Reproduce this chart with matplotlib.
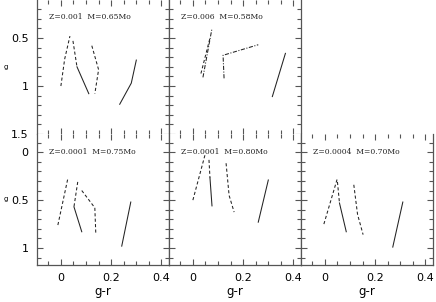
import matplotlib
matplotlib.use("Agg")
import matplotlib.pyplot as plt
from matplotlib.ticker import MultipleLocator

# ---------------- data (g-r, g) ----------------
panel_labels = ["Z=0.001  M=0.65Mo", "Z=0.006  M=0.58Mo",
                "Z=0.0001  M=0.75Mo", "Z=0.0001  M=0.80Mo", "Z=0.0004  M=0.70Mo"]

# panel 1 : Z=0.001 M=0.65
p1_a_x = [0.000, 0.015, 0.036]; p1_a_y = [1.00, 0.72, 0.48]
p1_b_x = [0.048, 0.064];        p1_b_y = [0.53, 0.80]
p1_c_x = [0.064, 0.111];        p1_c_y = [0.80, 1.08]
p1_d_x = [0.123, 0.150, 0.135]; p1_d_y = [0.58, 0.83, 1.08]
p1_e_x = [0.234, 0.280, 0.300]; p1_e_y = [1.19, 0.97, 0.73]

# panel 2 : Z=0.006 M=0.58
p2_a_x = [0.040, 0.076];        p2_a_y = [0.91, 0.40]
p2_b_x = [0.032, 0.068];        p2_b_y = [0.87, 0.50]
p2_c_x = [0.124, 0.120, 0.260]; p2_c_y = [0.92, 0.68, 0.57]
p2_d_x = [0.316, 0.368];        p2_d_y = [1.11, 0.66]

# panel 4 : Z=0.0001 M=0.75
p4_a_x = [-0.012, 0.028];       p4_a_y = [0.76, 0.27]
p4_b_x = [0.067, 0.052];        p4_b_y = [0.31, 0.57]
p4_c_x = [0.052, 0.083];        p4_c_y = [0.57, 0.83]
p4_d_x = [0.083, 0.135, 0.139]; p4_d_y = [0.40, 0.58, 0.86]
p4_e_x = [0.242, 0.278];        p4_e_y = [0.98, 0.52]

# panel 5 : Z=0.0001 M=0.80
p5_a_x = [0.000, 0.048];        p5_a_y = [0.50, 0.03]
p5_b_x = [0.064, 0.068];        p5_b_y = [0.08, 0.27]
p5_c_x = [0.068, 0.076];        p5_c_y = [0.27, 0.56]
p5_d_x = [0.132, 0.144, 0.164]; p5_d_y = [0.115, 0.45, 0.625]
p5_e_x = [0.260, 0.300];        p5_e_y = [0.73, 0.29]

# panel 6 : Z=0.0004 M=0.70
p6_a_x = [-0.004, 0.050];       p6_a_y = [0.75, 0.27]
p6_b_x = [0.050, 0.058];        p6_b_y = [0.31, 0.53]
p6_c_x = [0.058, 0.085];        p6_c_y = [0.53, 0.83]
p6_d_x = [0.115, 0.130, 0.152]; p6_d_y = [0.34, 0.65, 0.86]
p6_e_x = [0.270, 0.310];        p6_e_y = [0.99, 0.52]

x_ticks = [0, 0.2, 0.4]
x_tick_labels = ["0", "0.2", "0.4"]
upper_y_ticks = [0.5, 1.0, 1.5]
upper_y_labels = ["0.5", "1", "1.5"]
lower_y_ticks = [0.0, 0.5, 1.0]
lower_y_labels = ["0", "0.5", "1"]

# ---------------- styling ----------------
DASH = (0, (3.0, 2.2))
DASHDOT = (0, (4.0, 1.5, 1.0, 1.5))
SOLID = "-"
LINE_KW = dict(color="#222222", lw=0.75)
SPINE_COLOR = "#555555"

fig = plt.figure(figsize=(4.36, 3.02), dpi=100)
W = 436.0
H = 302.0
col_left = [37 / W, 169 / W, 301 / W]
col_w = 132 / W
up_b, up_h = 1 - 134 / H, 134 / H
lo_b, lo_h = 1 - 265 / H, 131 / H


def style_axes(ax, upper, first_col, last_row):
    ax.set_xlim(-0.095, 0.43)
    if upper:
        ax.set_ylim(1.5, 0.104)
        ax.set_yticks(upper_y_ticks)
        ax.set_yticklabels(upper_y_labels if first_col else [])
    else:
        ax.set_ylim(1.177, -0.19)
        ax.set_yticks(lower_y_ticks)
        ax.set_yticklabels(lower_y_labels if first_col else [])
    ax.set_xticks(x_ticks)
    ax.set_xticklabels(x_tick_labels if last_row else [])
    ax.xaxis.set_minor_locator(MultipleLocator(0.05))
    ax.yaxis.set_minor_locator(MultipleLocator(0.1))
    ax.tick_params(which="both", direction="in", top=True, right=True,
                   color=SPINE_COLOR, width=0.8, labelsize=8)
    ax.tick_params(which="major", length=4.5)
    ax.tick_params(which="minor", length=2.8)
    ax.tick_params(axis="y", pad=6)
    ax.tick_params(axis="x", pad=6)
    for s in ax.spines.values():
        s.set_color(SPINE_COLOR)
        s.set_linewidth(0.9)
    ax.spines["top"].set_visible(False)
    if upper:
        ax.spines["bottom"].set_visible(False)
    if last_row:
        ax.set_xlabel("g-r", fontsize=8.5, labelpad=1)
    if first_col:
        ax.set_ylabel("g", fontsize=5, rotation=0, va="center", ha="center")
        ax.yaxis.set_label_coords(-0.24, 0.5)


ax1 = fig.add_axes([col_left[0], up_b, col_w, up_h])
ax2 = fig.add_axes([col_left[1], up_b, col_w, up_h])
ax4 = fig.add_axes([col_left[0], lo_b, col_w, lo_h])
ax5 = fig.add_axes([col_left[1], lo_b, col_w, lo_h])
ax6 = fig.add_axes([col_left[2], lo_b, col_w, lo_h])

style_axes(ax1, True, True, False)
style_axes(ax2, True, False, False)
style_axes(ax4, False, True, True)
style_axes(ax5, False, False, True)
style_axes(ax6, False, False, True)

# panel 1
ax1.plot(p1_a_x, p1_a_y, ls=DASH, **LINE_KW)
ax1.plot(p1_b_x, p1_b_y, ls=DASH, **LINE_KW)
ax1.plot(p1_c_x, p1_c_y, ls=SOLID, **LINE_KW)
ax1.plot(p1_d_x, p1_d_y, ls=DASH, **LINE_KW)
ax1.plot(p1_e_x, p1_e_y, ls=SOLID, **LINE_KW)
# panel 2
ax2.plot(p2_a_x, p2_a_y, ls=DASHDOT, **LINE_KW)
ax2.plot(p2_b_x, p2_b_y, ls=DASH, **LINE_KW)
ax2.plot(p2_c_x, p2_c_y, ls=DASHDOT, **LINE_KW)
ax2.plot(p2_d_x, p2_d_y, ls=SOLID, **LINE_KW)
# panel 4
ax4.plot(p4_a_x, p4_a_y, ls=DASH, **LINE_KW)
ax4.plot(p4_b_x, p4_b_y, ls=DASH, **LINE_KW)
ax4.plot(p4_c_x, p4_c_y, ls=SOLID, **LINE_KW)
ax4.plot(p4_d_x, p4_d_y, ls=DASH, **LINE_KW)
ax4.plot(p4_e_x, p4_e_y, ls=SOLID, **LINE_KW)
# panel 5
ax5.plot(p5_a_x, p5_a_y, ls=DASH, **LINE_KW)
ax5.plot(p5_b_x, p5_b_y, ls=DASH, **LINE_KW)
ax5.plot(p5_c_x, p5_c_y, ls=SOLID, **LINE_KW)
ax5.plot(p5_d_x, p5_d_y, ls=DASH, **LINE_KW)
ax5.plot(p5_e_x, p5_e_y, ls=SOLID, **LINE_KW)
# panel 6
ax6.plot(p6_a_x, p6_a_y, ls=DASH, **LINE_KW)
ax6.plot(p6_b_x, p6_b_y, ls=DASH, **LINE_KW)
ax6.plot(p6_c_x, p6_c_y, ls=SOLID, **LINE_KW)
ax6.plot(p6_d_x, p6_d_y, ls=DASH, **LINE_KW)
ax6.plot(p6_e_x, p6_e_y, ls=SOLID, **LINE_KW)

for ax, lab, upper in zip([ax1, ax2, ax4, ax5, ax6], panel_labels,
                          [True, True, False, False, False]):
    ax.text(0.09, 0.873 if upper else 0.863, lab, transform=ax.transAxes,
            ha="left", va="center", fontsize=5.5, family="DejaVu Serif",
            color="#222222")

fig.savefig("out.png", dpi=100)
